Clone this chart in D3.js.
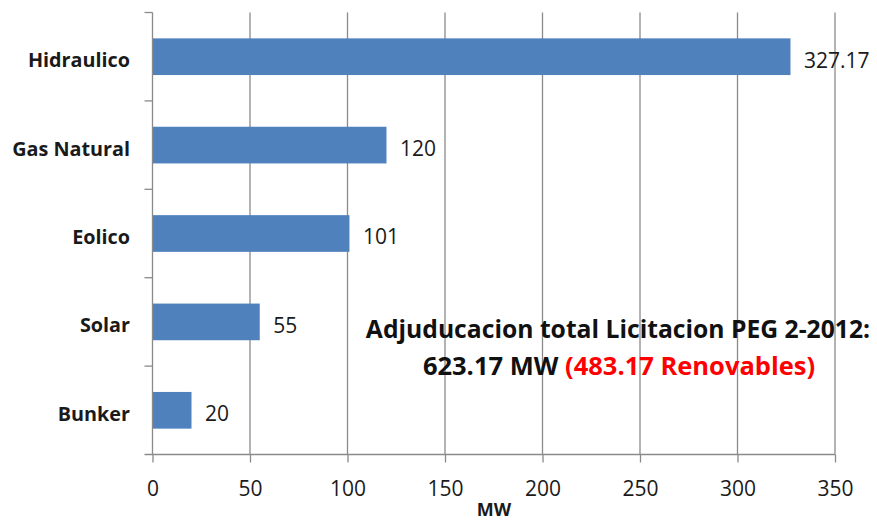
<!DOCTYPE html>
<html><head><meta charset="utf-8">
<script src="https://cdn.jsdelivr.net/npm/d3@7"></script>
<style>body{margin:0;background:#fff;} text{font-family:"Open Sans",sans-serif;}</style>
</head><body>
<svg id="chart" width="877" height="522"></svg>
<script>
const categories = ["Hidraulico", "Gas Natural", "Eolico", "Solar", "Bunker"];
const values = [327.17, 120, 101, 55, 20];
const valueLabels = ["327.17", "120", "101", "55", "20"];
const xTicks = [0, 50, 100, 150, 200, 250, 300, 350];
const xTitle = "MW";
const noteLine1 = "Adjuducacion total Licitacion PEG 2-2012:";
const noteLine2a = "623.17 MW ";
const noteLine2b = "(483.17 Renovables)";

const svg = d3.select("#chart");
const m = {left: 152.5, right: 835, top: 12.5, bottom: 454.5};
const x = d3.scaleLinear().domain([0, 350]).range([m.left, m.right]);
const y = d3.scaleBand().domain(categories).range([m.top, m.bottom]).paddingInner(0.585).paddingOuter(0.2925);
const yb = d3.scaleBand().domain(categories).range([m.top, m.bottom]);
const grid = "#8a8a8a";
const txt = "#1a1a1a";

// gridlines
svg.append("g").selectAll("line").data(xTicks.filter(d => d > 0)).join("line")
  .attr("x1", d => x(d)).attr("x2", d => x(d))
  .attr("y1", m.top).attr("y2", m.bottom)
  .attr("stroke", grid).attr("stroke-width", 1.3);

// bars
svg.append("g").selectAll("rect").data(values).join("rect")
  .attr("x", x(0)).attr("y", (d, i) => y(categories[i]))
  .attr("width", d => x(d) - x(0)).attr("height", y.bandwidth())
  .attr("fill", "#4f81bd");

// x axis
const xAxis = d3.axisBottom(x).tickValues(xTicks).tickSize(8).tickPadding(0).tickFormat(d3.format("d"));
const gx = svg.append("g").attr("transform", `translate(0,${m.bottom})`).call(xAxis);
gx.select(".domain").attr("stroke", grid).attr("stroke-width", 1.3).attr("d", `M${m.left - 8},0H${m.right}`);
gx.selectAll(".tick line").attr("stroke", grid).attr("stroke-width", 1.3);
gx.selectAll(".tick text").attr("fill", txt).attr("font-size", 21).attr("font-family", "Open Sans")
  .attr("y", 34.5).attr("dy", "0.35em");

// y axis (category boundaries ticks)
const gy = svg.append("g");
gy.append("line").attr("x1", m.left).attr("x2", m.left).attr("y1", m.top).attr("y2", m.bottom)
  .attr("stroke", grid).attr("stroke-width", 1.3);
gy.selectAll("line.t").data(categories).join("line").attr("class", "t")
  .attr("x1", m.left - 8).attr("x2", m.left)
  .attr("y1", d => yb(d)).attr("y2", d => yb(d))
  .attr("stroke", grid).attr("stroke-width", 1.3);
gy.selectAll("text").data(categories).join("text")
  .attr("x", 130).attr("y", d => yb(d) + yb.bandwidth() / 2 + 3.5)
  .attr("dy", "0.35em").attr("text-anchor", "end")
  .attr("font-size", 19.8).attr("font-weight", "bold").attr("fill", txt)
  .text(d => d);

// value labels
svg.append("g").selectAll("text").data(values).join("text")
  .attr("x", d => x(d) + 13.5).attr("y", (d, i) => y(categories[i]) + y.bandwidth() / 2 + 3.5)
  .attr("dy", "0.35em").attr("font-size", 21).attr("fill", txt)
  .text((d, i) => valueLabels[i]);

// x title
svg.append("text").attr("x", 494).attr("y", 516).attr("text-anchor", "middle")
  .attr("font-size", 18).attr("font-weight", "bold").attr("fill", txt).text(xTitle);

// annotation
svg.append("text").attr("x", 618).attr("y", 338).attr("text-anchor", "middle")
  .attr("font-size", 24.7).attr("font-weight", "bold").attr("fill", "#111").text(noteLine1);
const t2 = svg.append("text").attr("x", 619).attr("y", 375).attr("text-anchor", "middle")
  .attr("font-size", 25.5).attr("font-weight", "bold");
t2.append("tspan").attr("fill", "#111").text(noteLine2a);
t2.append("tspan").attr("fill", "#ff0000").text(noteLine2b);
</script>
</body></html>
